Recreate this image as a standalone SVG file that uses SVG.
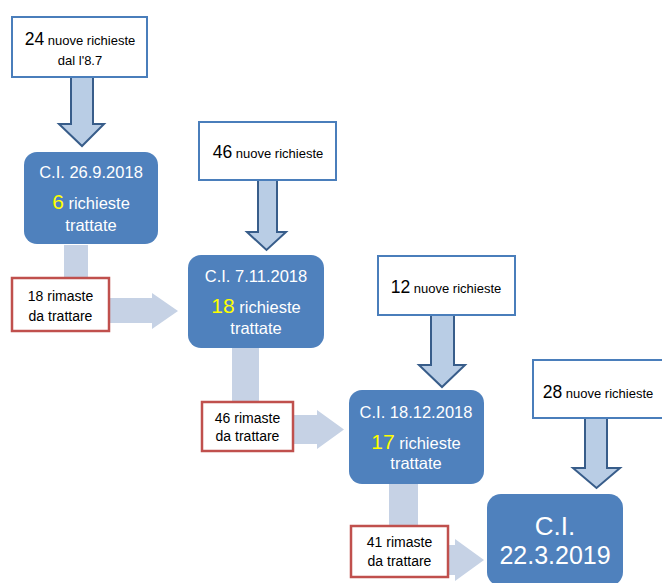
<svg xmlns="http://www.w3.org/2000/svg" width="662" height="583" viewBox="0 0 662 583">
  <style>
    text { font-family: "Liberation Sans", Arial, sans-serif; text-anchor: middle; }
    .inbox { fill: #ffffff; stroke: #4a7ebb; stroke-width: 2; }
    .left { fill: #ffffff; stroke: #c0504d; stroke-width: 2.5; }
    .meeting { fill: #4f81bd; }
    .down { fill: #b9cde5; stroke: #385d8a; stroke-width: 2; stroke-linejoin: miter; }
    .carry { fill: #c6d2e5; }
    .dark { fill: #000000; font-size: 13px; }
    .big { font-size: 17.5px; }
    .white { fill: #ffffff; font-size: 16.5px; }
    .num { fill: #ffff00; font-size: 21px; }
    .small { fill: #000000; font-size: 14px; }
  </style>

  <!-- connectors: incoming block arrows and carry-over bent arrows -->
  <g id="connectors">
    <path class="down" d="M71,77 H93 V124 H104 L82,146 L59,124 H71 Z"/>
    <path class="down" d="M258,180 H277 V232 H286 L266.5,250 L247,232 H258 Z"/>
    <path class="down" d="M431,315 H454 V365 H465 L442,387 L419,365 H431 Z"/>
    <path class="down" d="M585,418 H607 V468 H620 L596.5,488 L573,468 H585 Z"/>

    <path class="carry" d="M64,245 H88 V298 H152 V293 L178,311 L152,329 V323 H64 Z"/>
    <path class="carry" d="M232,348 H259 V415 H317 V410 L344,429.5 L317,449 V444 H232 Z"/>
    <path class="carry" d="M389,484 H418 V545 H455 V539 L484,560 L455,581 V575 H389 Z"/>
  </g>

  <!-- new requests -->
  <g id="new1">
    <rect class="inbox" x="12" y="17" width="135" height="60"/>
    <text class="dark" x="80" y="45"><tspan class="big">24</tspan> nuove richieste</text>
    <text class="dark" x="80" y="65">dal l'8.7</text>
  </g>
  <g id="new2">
    <rect class="inbox" x="199" y="122" width="137" height="58"/>
    <text class="dark" x="268" y="158"><tspan class="big">46</tspan> nuove richieste</text>
  </g>
  <g id="new3">
    <rect class="inbox" x="378" y="256" width="137" height="59"/>
    <text class="dark" x="446" y="293"><tspan class="big">12</tspan> nuove richieste</text>
  </g>
  <g id="new4">
    <rect class="inbox" x="533" y="360" width="140" height="58"/>
    <text class="dark" x="598" y="398"><tspan class="big">28</tspan> nuove richieste</text>
  </g>

  <!-- committee meetings -->
  <g id="ci1">
    <rect class="meeting" x="24" y="152" width="134" height="92" rx="13"/>
    <text class="white" x="91" y="178">C.I. 26.9.2018</text>
    <text class="white" x="91" y="209"><tspan class="num">6</tspan> richieste</text>
    <text class="white" x="91" y="231">trattate</text>
  </g>
  <g id="ci2">
    <rect class="meeting" x="188" y="255" width="136" height="93" rx="13"/>
    <text class="white" x="256" y="282">C.I. 7.11.2018</text>
    <text class="white" x="256" y="313"><tspan class="num">18</tspan> richieste</text>
    <text class="white" x="256" y="334">trattate</text>
  </g>
  <g id="ci3">
    <rect class="meeting" x="349" y="390" width="135" height="94" rx="13"/>
    <text class="white" x="416" y="418">C.I. 18.12.2018</text>
    <text class="white" x="416" y="449"><tspan class="num">17</tspan> richieste</text>
    <text class="white" x="416" y="469">trattate</text>
  </g>
  <g id="ci4">
    <rect class="meeting" x="487" y="494" width="136" height="92" rx="14"/>
    <text class="white" x="555" y="535" style="font-size:26px">C.I.</text>
    <text class="white" x="555" y="564" style="font-size:25px">22.3.2019</text>
  </g>

  <!-- requests left over -->
  <g id="left1">
    <rect class="left" x="12" y="278" width="97" height="53"/>
    <text class="small" x="60.5" y="301">18 rimaste</text>
    <text class="small" x="60.5" y="321">da trattare</text>
  </g>
  <g id="left2">
    <rect class="left" x="202" y="402" width="91" height="49"/>
    <text class="small" x="247.5" y="423">46 rimaste</text>
    <text class="small" x="247.5" y="441">da trattare</text>
  </g>
  <g id="left3">
    <rect class="left" x="351" y="526" width="97" height="51"/>
    <text class="small" x="399.5" y="547">41 rimaste</text>
    <text class="small" x="399.5" y="566">da trattare</text>
  </g>
</svg>
